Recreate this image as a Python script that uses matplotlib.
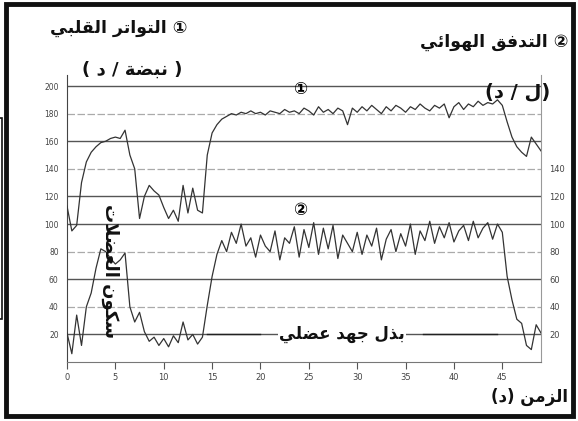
import numpy as np
import matplotlib.pyplot as plt
from matplotlib.patches import Rectangle

# time in minutes, one sample every half minute
time_min = np.arange(0, 49.01, 0.5)

heart_rate = [
    113, 95, 99, 130, 145, 152, 156, 159, 160, 162,
    163, 162, 168, 150, 140, 104, 120, 128, 124, 121,
    112, 104, 110, 102, 128, 108, 126, 110, 108, 150,
    166, 172, 176, 178, 180, 179, 181, 180, 182, 180,
    181, 179, 182, 181, 180, 183, 181, 182, 180, 184,
    182, 179, 185, 181, 183, 180, 184, 182, 172, 184,
    181, 185, 182, 186, 183, 180, 185, 182, 186, 184,
    181, 185, 183, 187, 184, 182, 186, 184, 187, 177,
    185, 188, 183, 187, 185, 189, 186, 188, 187, 190,
    186, 174, 163, 156, 152, 149, 163, 158, 153,
]

air_flow = [
    21, 6, 34, 12, 40, 50, 68, 82, 80, 75,
    71, 74, 79, 40, 29, 36, 22, 15, 18, 12,
    17, 11, 19, 14, 29, 16, 20, 13, 18, 41,
    62, 78, 88, 80, 94, 86, 100, 84, 90, 76,
    92, 84, 80, 95, 74, 90, 86, 98, 76, 96,
    83, 101, 78, 97, 82, 99, 75, 92, 86, 80,
    94, 78, 92, 84, 97, 74, 89, 96, 80, 93,
    84, 100, 78, 95, 88, 102, 86, 98, 90, 101,
    87, 95, 99, 88, 102, 90, 97, 101, 89, 100,
    94, 62, 45, 31, 28, 12, 9, 27, 21,
]

x_ticks = [0, 5, 10, 15, 20, 25, 30, 35, 40, 45]
left_ticks = [20, 40, 60, 80, 100, 120, 140, 160, 180, 200]
right_ticks = [20, 40, 60, 80, 100, 120, 140]
dark_grid = [20, 60, 100, 120, 160, 200]
light_grid = [40, 80, 140, 180]

# muscular effort bracket (minutes) and its level on the axis
effort_left = (14.5, 20.0)
effort_right = (36.8, 44.5)
effort_level = 20

# minimal arabic shaping: matplotlib does not join or reorder arabic letters
FORMS = {
    'ا': (0xFE8D, 0xFE8E, None, None),
    'ب': (0xFE8F, 0xFE90, 0xFE91, 0xFE92),
    'ة': (0xFE93, 0xFE94, None, None),
    'ت': (0xFE95, 0xFE96, 0xFE97, 0xFE98),
    'ج': (0xFE9D, 0xFE9E, 0xFE9F, 0xFEA0),
    'د': (0xFEA9, 0xFEAA, None, None),
    'ذ': (0xFEAB, 0xFEAC, None, None),
    'ر': (0xFEAD, 0xFEAE, None, None),
    'ز': (0xFEAF, 0xFEB0, None, None),
    'س': (0xFEB1, 0xFEB2, 0xFEB3, 0xFEB4),
    'ص': (0xFEB9, 0xFEBA, 0xFEBB, 0xFEBC),
    'ض': (0xFEBD, 0xFEBE, 0xFEBF, 0xFEC0),
    'ع': (0xFEC9, 0xFECA, 0xFECB, 0xFECC),
    'ف': (0xFED1, 0xFED2, 0xFED3, 0xFED4),
    'ق': (0xFED5, 0xFED6, 0xFED7, 0xFED8),
    'ك': (0xFED9, 0xFEDA, 0xFEDB, 0xFEDC),
    'ل': (0xFEDD, 0xFEDE, 0xFEDF, 0xFEE0),
    'م': (0xFEE1, 0xFEE2, 0xFEE3, 0xFEE4),
    'ن': (0xFEE5, 0xFEE6, 0xFEE7, 0xFEE8),
    'ه': (0xFEE9, 0xFEEA, 0xFEEB, 0xFEEC),
    'و': (0xFEED, 0xFEEE, None, None),
    'ي': (0xFEF1, 0xFEF2, 0xFEF3, 0xFEF4),
    'ئ': (0xFE89, 0xFE8A, 0xFE8B, 0xFE8C),
    '\ufefb': (0xFEFB, 0xFEFC, None, None),
}


def arabic(text):
    text = text.replace('لا', '\ufefb')
    out = []
    for i, ch in enumerate(text):
        if ch not in FORMS:
            out.append(ch)
            continue
        prev = text[i - 1] if i > 0 else ''
        nxt = text[i + 1] if i + 1 < len(text) else ''
        iso, fin, ini, med = FORMS[ch]
        join_prev = prev in FORMS and FORMS[prev][2] is not None
        join_next = ini is not None and nxt in FORMS
        if join_prev and join_next:
            out.append(chr(med))
        elif join_prev:
            out.append(chr(fin))
        elif join_next:
            out.append(chr(ini))
        else:
            out.append(chr(iso))
    mirror = {'(': ')', ')': '('}
    return ''.join(mirror.get(c, c) for c in reversed(out))


W, H = 578, 421
fig = plt.figure(figsize=(W / 100, H / 100), dpi=100)
ax = fig.add_axes([67 / W, 1 - 362 / H, (541 - 67) / W, (362 - 75) / H])
ax.set_xlim(0, 49)
ax.set_ylim(0, 208)

for g in dark_grid:
    ax.axhline(g, color='#555555', lw=1.0, zorder=1)
for g in light_grid:
    ax.axhline(g, color='#aaaaaa', lw=0.9, ls=(0, (6, 2)), zorder=1)

ax.plot(time_min, heart_rate, color='#333333', lw=0.9, zorder=3)
ax.plot(time_min, air_flow, color='#333333', lw=0.9, zorder=3)

ax.spines['top'].set_visible(False)
ax.spines['left'].set_color('#444444')
ax.spines['bottom'].set_color('#777777')
ax.spines['right'].set_color('#999999')
ax.set_xticks(x_ticks)
ax.set_xticklabels([str(t) for t in x_ticks])
ax.set_yticks(left_ticks)
ax.set_yticklabels([str(t) for t in left_ticks])
ax.tick_params(axis='x', direction='out', length=5, width=0.8, color='#555555',
               labelsize=6, labelcolor='#444444', pad=3)
ax.tick_params(axis='y', length=0, labelsize=5.5, labelcolor='#444444', pad=6)

ax2 = ax.twinx()
ax2.set_ylim(0, 208)
ax2.set_yticks(right_ticks)
ax2.set_yticklabels([str(t) for t in right_ticks])
ax2.tick_params(axis='y', length=0, labelsize=6, labelcolor='#444444', pad=6)
for s in ax2.spines.values():
    s.set_visible(False)

ar_font = dict(family=['DejaVu Sans', 'Noto Sans CJK SC'], fontweight='bold', color='#111111')

fig.text(187 / W, 1 - 28 / H, arabic('① التواتر القلبي'), ha='right', va='center', fontsize=12.5, **ar_font)
fig.text(568 / W, 1 - 42 / H, arabic('② التدفق الهوائي'), ha='right', va='center', fontsize=12.5, **ar_font)
fig.text(132 / W, 1 - 70 / H, arabic('( نبضة / د )'), ha='center', va='center', fontsize=13, **ar_font)
fig.text(518 / W, 1 - 92 / H, arabic('(ل / د)'), ha='center', va='center', fontsize=14, **ar_font)
fig.text(568 / W, 1 - 397 / H, arabic('الزمن (د)'), ha='right', va='center', fontsize=12, **ar_font)

ax.text(24.1, 198, '①', ha='center', va='center', fontsize=12,
        family=['DejaVu Sans', 'Noto Sans CJK SC'], fontweight='bold', zorder=5)
ax.text(24.1, 110, '②', ha='center', va='center', fontsize=12,
        family=['DejaVu Sans', 'Noto Sans CJK SC'], fontweight='bold', zorder=5)

ax.plot(effort_left, [effort_level] * 2, color='#222222', lw=1.0, zorder=4)
ax.plot(effort_right, [effort_level] * 2, color='#222222', lw=1.0, zorder=4)
ax.text(28.4, effort_level, arabic('بذل جهد عضلي'), ha='center', va='center', fontsize=12,
        bbox=dict(facecolor='white', edgecolor='none', pad=1), zorder=5, **ar_font)

ax.text(4.5, 66, arabic('سكون العضلات'), rotation=270, ha='center', va='center',
        fontsize=13, zorder=5, **ar_font)

# scanned frame
fig.patches.append(Rectangle((6 / W, 1 - 416 / H), (573 - 6) / W, (416 - 4) / H,
                             transform=fig.transFigure, fill=False, lw=3.5,
                             edgecolor='#111111', zorder=10))
fig.patches.append(Rectangle((-5 / W, 1 - 319 / H), 7 / W, (319 - 118) / H,
                             transform=fig.transFigure, fill=False, lw=1.2,
                             edgecolor='#111111', zorder=10))

fig.savefig('out.png', dpi=100)
